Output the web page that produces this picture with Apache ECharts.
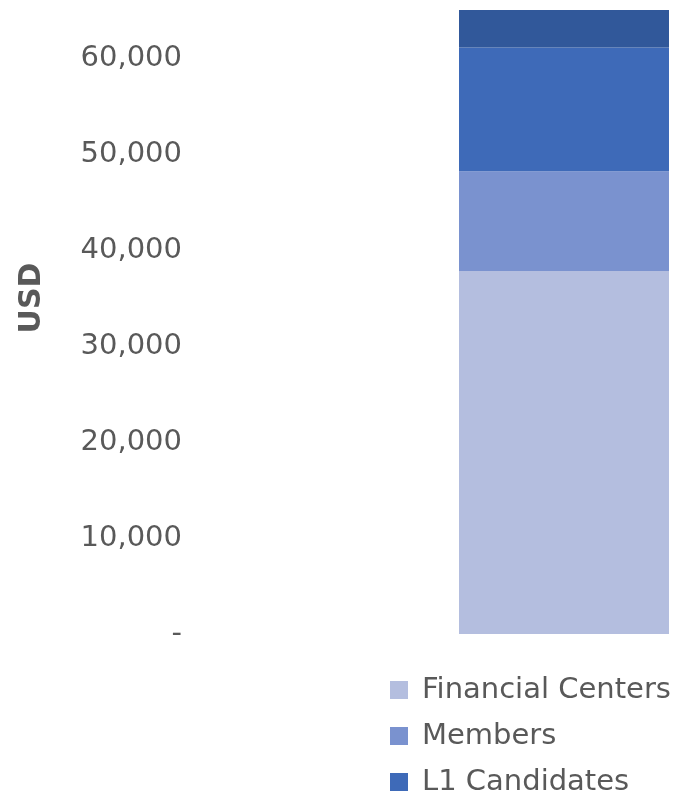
<!DOCTYPE html>
<html>
<head>
<meta charset="utf-8">
<style>
  html, body { margin: 0; padding: 0; background: #fff; }
  #main { width: 696px; height: 798px; }
</style>
<script src="https://cdn.jsdelivr.net/npm/echarts@6/dist/echarts.min.js"></script>
</head>
<body>
<div id="main"></div>
<script>
// data
var categories = ['Total'];
var seriesNames = ['Financial Centers', 'Members', 'L1 Candidates', 'Other'];
var financialCenters = [37800];
var members = [10400];
var l1Candidates = [12900];
var other = [3900];
var yTicks = [0, 10000, 20000, 30000, 40000, 50000, 60000];

var colors = ['#b4bedf', '#7a92cf', '#3e6ab8', '#31589a'];
var values = [financialCenters, members, l1Candidates, other];

var chart = echarts.init(document.getElementById('main'));

var fmt = function (v) {
  if (v === 0) return '-';
  return v.toLocaleString('en-US');
};

chart.setOption({
  animation: false,
  textStyle: { fontFamily: 'DejaVu Sans' },
  grid: { left: 459, right: 27, top: 10, bottom: 164 },
  graphic: [{
    type: 'text',
    x: 32,
    y: 298,
    rotation: Math.PI / 2,
    style: {
      text: 'USD',
      fontSize: 30,
      fontWeight: 'bold',
      fontFamily: 'DejaVu Sans',
      fill: '#595959',
      align: 'center',
      verticalAlign: 'middle'
    }
  }],
  legend: {
    data: seriesNames.slice(0, 3),
    orient: 'vertical',
    left: 390,
    top: 675,
    padding: 0,
    itemWidth: 18,
    itemHeight: 18,
    itemGap: 16,
    icon: 'rect',
    textStyle: { fontSize: 29, lineHeight: 30, color: '#595959', fontFamily: 'DejaVu Sans', padding: [0, 0, 0, 9] }
  },
  xAxis: {
    type: 'category',
    data: categories,
    axisLine: { show: false },
    axisTick: { show: false },
    axisLabel: { show: false }
  },
  yAxis: {
    type: 'value',
    min: 0,
    max: 65000,
    interval: 10000,
    splitLine: { show: false },
    axisLine: { show: false },
    axisTick: { show: false },
    axisLabel: {
      margin: 277,
      fontSize: 29,
      color: '#595959',
      showMaxLabel: false,
      formatter: function (v) { return yTicks.indexOf(v) >= 0 ? fmt(v) : ''; }
    }
  },
  series: values.map(function (d, i) {
    return {
      name: seriesNames[i],
      type: 'bar',
      stack: 'total',
      data: d,
      barCategoryGap: 0,
      barWidth: '100%',
      itemStyle: { color: colors[i] }
    };
  })
});
</script>
</body>
</html>
